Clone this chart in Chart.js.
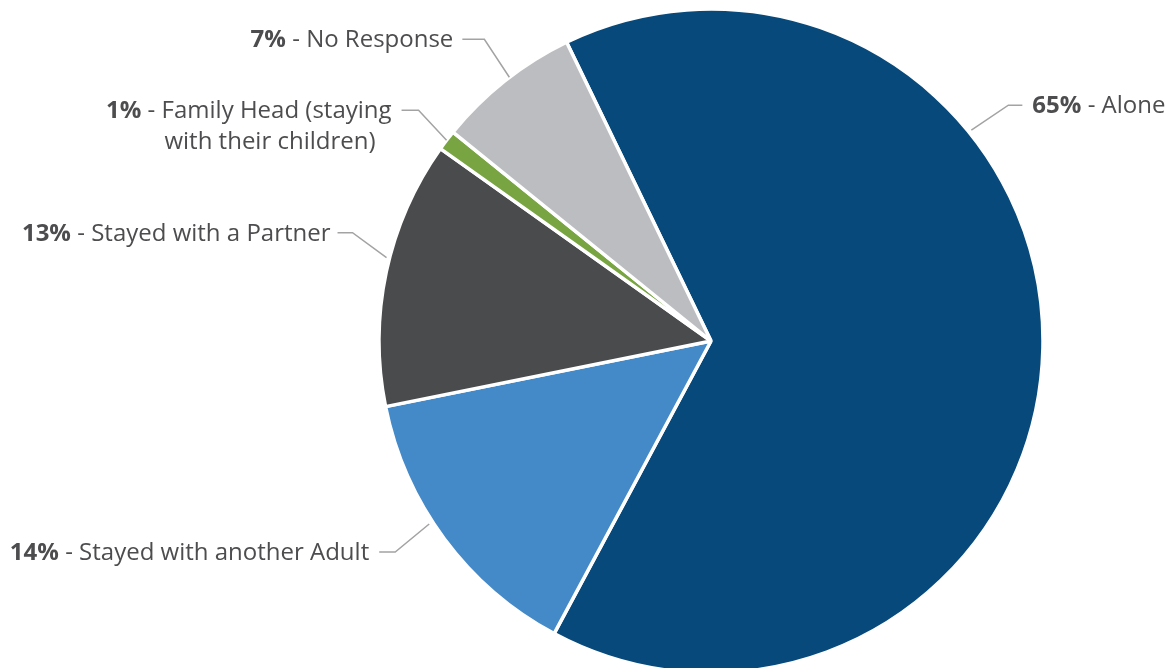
<!DOCTYPE html>
<html>
<head>
<meta charset="utf-8">
<script src="https://cdn.jsdelivr.net/npm/chart.js@4/dist/chart.umd.min.js"></script>
<style>
  html, body { margin: 0; padding: 0; background: #fff; overflow: hidden; }
  .wrap { position: relative; width: 1171px; height: 668px; }
</style>
</head>
<body>
<div class="wrap"><canvas id="pie"></canvas></div>
<script>
const categories = [
  "Alone",
  "Stayed with another Adult",
  "Stayed with a Partner",
  "Family Head (staying",
  "No Response"
];
const secondLines = ["", "", "", "with their children)", ""];
const percents = [65, 14, 13, 1, 7];
const colors = ["#07497a", "#4489c8", "#4a4b4d", "#78a542", "#bcbdc1"];

// where each leader line leaves the pie and how it bends (styling only)
const labelLayout = [
  { shift: -40.2, gap: 3, dx: 37, dy: -25, h: 14, pad: 10, side: "right" },
  { shift: 3.6, gap: 4, dx: -34, dy: 28, h: 16, pad: 10, side: "left" },
  { shift: 2.4, gap: 3, dx: -34, dy: -25, h: 15, pad: 7, side: "left" },
  { shift: 0, gap: 0, dx: -28, dy: -30, h: 17, pad: 10, side: "left", line2Indent: 16 },
  { shift: 1, gap: 0, dx: -25, dy: -38, h: 22, pad: 9, side: "left" }
];

const FONT = "'Open Sans', 'Noto Sans', sans-serif";
const SIZE = 24;

const leaderLabels = {
  id: "leaderLabels",
  afterDraw(chart) {
    const ctx = chart.ctx;
    const meta = chart.getDatasetMeta(0);
    meta.data.forEach((arc, i) => {
      const lay = labelLayout[i];
      const mid = (arc.startAngle + arc.endAngle) / 2 + lay.shift * Math.PI / 180;
      const r = arc.outerRadius + lay.gap;
      const sx = arc.x + Math.cos(mid) * r;
      const sy = arc.y + Math.sin(mid) * r;
      const ex = sx + lay.dx;
      const ey = sy + lay.dy;
      const dir = lay.side === "right" ? 1 : -1;
      const hx = ex + dir * lay.h;

      ctx.save();
      ctx.strokeStyle = "#a3a3a3";
      ctx.lineWidth = 1.5;
      ctx.beginPath();
      ctx.moveTo(sx, sy);
      ctx.lineTo(ex, ey);
      ctx.lineTo(hx, ey);
      ctx.stroke();

      const bold = percents[i] + "%";
      const rest = " - " + categories[i];
      ctx.textBaseline = "alphabetic";
      ctx.fillStyle = "#4d4d4f";
      ctx.font = "bold " + SIZE + "px " + FONT;
      const wb = ctx.measureText(bold).width;
      ctx.font = SIZE + "px " + FONT;
      const wr = ctx.measureText(rest).width;
      const base = ey + 8;
      let tx = lay.side === "right" ? hx + lay.pad : hx - lay.pad - wb - wr;
      const lineEnd = tx + wb + wr;
      ctx.font = "bold " + SIZE + "px " + FONT;
      ctx.fillText(bold, tx, base);
      ctx.font = SIZE + "px " + FONT;
      ctx.fillText(rest, tx + wb, base);

      if (secondLines[i]) {
        ctx.textAlign = "right";
        ctx.fillText(secondLines[i], lineEnd - (lay.line2Indent || 0), base + 31);
      }
      ctx.restore();
    });
  }
};

new Chart(document.getElementById("pie"), {
  type: "pie",
  data: {
    labels: categories,
    datasets: [{
      data: percents,
      backgroundColor: colors,
      borderColor: "#ffffff",
      borderWidth: 3.5
    }]
  },
  options: {
    responsive: true,
    maintainAspectRatio: false,
    animation: false,
    rotation: -25.8,
    radius: 332,
    layout: { padding: { left: 251, top: 14, right: 0, bottom: 0 } },
    plugins: {
      legend: { display: false },
      tooltip: { enabled: false }
    }
  },
  plugins: [leaderLabels]
});
</script>
</body>
</html>
